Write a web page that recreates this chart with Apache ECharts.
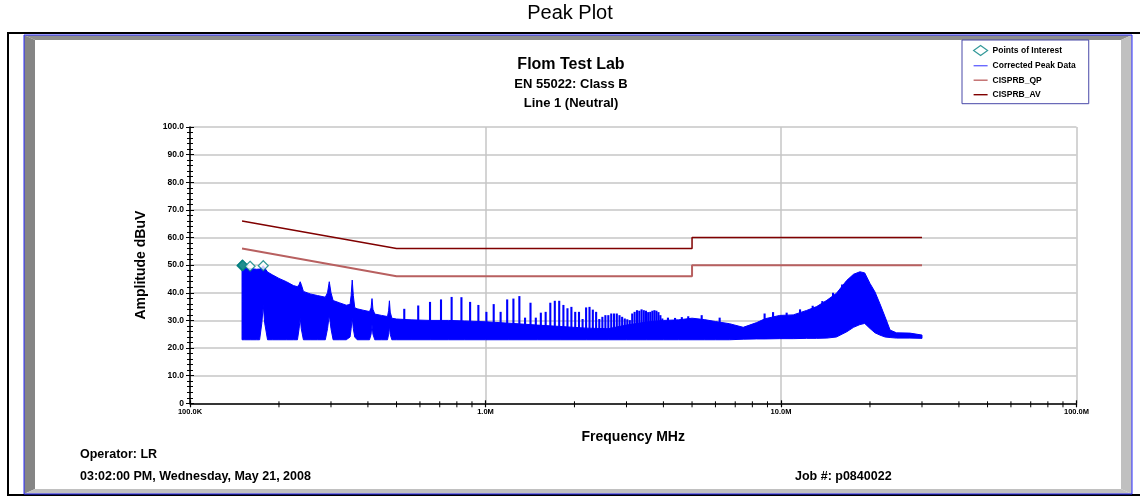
<!DOCTYPE html>
<html>
<head>
<meta charset="utf-8">
<title>Peak Plot</title>
<script src="https://cdn.jsdelivr.net/npm/echarts@6.0.0/dist/echarts.min.js"></script>
<style>
  html, body { margin: 0; padding: 0; background: #fff; }
  #chart { width: 1140px; height: 496px; }
</style>
</head>
<body>
<div id="chart"></div>
<script>
// frequencies in MHz, levels in dBuV

// corrected peak data: the solid band is read as an upper and a lower envelope
const bandFreq = [0.150, 0.153, 0.160, 0.168, 0.172, 0.175, 0.177, 0.179, 0.183, 0.190,
  0.200, 0.212, 0.224, 0.231, 0.234, 0.236, 0.238, 0.242, 0.255, 0.270,
  0.287, 0.292, 0.296, 0.300, 0.305, 0.320, 0.338, 0.348, 0.351, 0.354,
  0.357, 0.361, 0.368, 0.385, 0.405, 0.410, 0.413, 0.416, 0.422, 0.445,
  0.466, 0.470, 0.473, 0.476, 0.482, 0.500, 0.560, 0.650, 0.750, 0.850,
  1.00, 1.20, 1.50, 1.80, 2.20, 2.60, 3.00, 3.50, 4.00, 4.50,
  5.00, 5.50, 6.00, 6.70, 7.45, 8.27, 8.83, 9.90, 11.0, 12.2,
  13.2, 14.3, 15.4, 16.7, 17.6, 18.5, 19.2, 20.0, 20.8, 21.6,
  22.5, 23.4, 24.6, 27.3, 30.0];
const bandTop = [50.0, 49.0, 48.8, 48.5, 48.6, 49.2, 49.8, 49.0, 47.5, 46.5,
  45.2, 44.0, 42.6, 42.2, 43.0, 44.0, 43.0, 40.5, 39.6, 39.0,
  38.4, 40.0, 44.0, 40.0, 37.2, 36.4, 35.5, 35.8, 39.0, 44.6,
  39.0, 34.6, 34.2, 33.7, 33.2, 34.5, 37.9, 34.0, 32.3, 31.8,
  31.4, 33.5, 37.1, 33.0, 30.8, 30.5, 30.2, 30.0, 30.0, 29.8,
  29.5, 29.0, 28.3, 27.8, 27.2, 27.0, 28.3, 29.4, 30.0, 30.2,
  30.8, 30.3, 29.6, 28.8, 27.5, 29.2, 30.6, 31.8, 32.0, 33.6,
  35.0, 37.3, 39.8, 44.5, 46.7, 47.6, 47.2, 43.4, 40.3, 36.1,
  31.3, 26.5, 25.5, 25.4, 24.7];
const bandLow = [23.0, 23.0, 23.0, 23.0, 23.0, 29.0, 35.5, 29.0, 23.0, 23.0,
  23.0, 23.0, 23.0, 23.0, 27.0, 31.0, 27.0, 23.0, 23.0, 23.0,
  23.0, 27.0, 32.0, 27.0, 23.0, 23.0, 23.0, 24.0, 27.0, 31.0,
  27.0, 24.0, 23.0, 23.0, 23.0, 25.0, 28.5, 25.0, 23.0, 23.0,
  23.0, 25.0, 28.0, 25.0, 23.0, 23.0, 23.0, 23.0, 23.0, 23.0,
  23.0, 23.0, 23.0, 23.0, 23.0, 23.0, 23.0, 23.0, 23.0, 23.0,
  23.0, 23.0, 23.0, 23.0, 23.2, 23.3, 23.3, 23.4, 23.4, 23.5,
  23.5, 23.6, 24.0, 25.9, 27.5, 28.5, 28.9, 27.1, 25.5, 24.7,
  24.0, 23.8, 23.6, 23.6, 23.5];

// harmonic spikes and noise spikes standing above the band
const spikeBase = 26.5;
const spikeFreq = [0.531, 0.592, 0.649, 0.707, 0.768, 0.829, 0.887, 0.946,
  1.007, 1.066, 1.125, 1.184, 1.243, 1.302, 1.361, 1.420, 1.480, 1.539,
  1.598, 1.657, 1.716, 1.776, 1.835, 1.894, 1.953, 2.012, 2.072, 2.131,
  2.190, 2.249, 2.308, 2.368, 2.427, 2.486, 2.545, 2.604, 2.664, 2.723,
  2.782, 2.841, 2.900, 2.960, 3.019, 3.078, 3.137, 3.196, 3.256, 3.315,
  3.374, 3.433, 3.492, 3.552, 3.611, 3.670, 3.729, 3.788, 3.848, 3.907,
  3.966, 4.144, 4.380, 4.617, 4.854, 5.39, 6.20, 8.80, 9.40, 10.45,
  11.6, 12.8, 13.8, 15.0, 16.1];
const spikeTop = [34.2, 35.4, 36.7, 37.6, 38.5, 38.4, 36.7, 35.6,
  33.1, 35.9, 33.1, 37.6, 37.9, 38.8, 31.0, 36.4, 31.0, 32.8,
  33.1, 36.4, 37.1, 37.1, 35.6, 34.4, 34.9, 33.1, 33.1, 30.5,
  34.7, 34.9, 33.9, 33.1, 30.5, 31.3, 31.9, 31.9, 32.5, 32.5,
  32.5, 31.9, 31.3, 30.7, 30.4, 30.1, 32.5, 33.1, 33.7, 33.5,
  34.0, 33.7, 33.5, 33.0, 33.1, 33.5, 33.7, 33.5, 33.0, 31.9,
  30.7, 31.0, 30.9, 31.2, 31.5, 31.9, 31.0, 32.5, 33.0, 32.8,
  34.0, 35.3, 37.0, 40.0, 43.0];

// EN 55022 class B limit lines
const limitFreq = [0.15, 0.5, 5, 5, 30];
const limitUpper = [66, 56, 56, 60, 60];
const limitLower = [56, 46, 46, 50, 50];

// points of interest
const poiFreq = [0.1500, 0.1505, 0.1510, 0.1597, 0.1770];
const poiLevel = [49.8, 50.0, 49.9, 49.6, 49.8];

// axis ticks
const freqTickLabels = ['100.0K', '1.0M', '10.0M', '100.0M'];
const freqMinorTicks = [0.2, 0.3, 0.4, 0.5, 0.6, 0.7, 0.8, 0.9,
  2, 3, 4, 5, 6, 7, 8, 9, 20, 30, 40, 50, 60, 70, 80, 90];
const ampTickLabels = ['0', '10.0', '20.0', '30.0', '40.0', '50.0', '60.0', '70.0', '80.0', '90.0', '100.0'];

const FONT = 'Arial, "Liberation Sans", sans-serif';

function zip(xs, ys) {
  return xs.map((x, i) => [x, ys[i]]);
}

function drawBand(params, api) {
  const pts = [];
  for (let i = 0; i < bandFreq.length; i++) pts.push(api.coord([bandFreq[i], bandTop[i]]));
  for (let i = bandFreq.length - 1; i >= 0; i--) pts.push(api.coord([bandFreq[i], bandLow[i]]));
  return {
    type: 'polygon',
    shape: { points: pts },
    style: { fill: '#0000ff', stroke: '#0000ff', lineWidth: 1 }
  };
}

function drawSpike(params, api) {
  const top = api.coord([api.value(0), api.value(1)]);
  const base = api.coord([api.value(0), spikeBase]);
  return {
    type: 'line',
    shape: { x1: top[0], y1: top[1], x2: base[0], y2: base[1] },
    style: { stroke: '#0000ff', lineWidth: 2.1 }
  };
}

function drawMinorTick(params, api) {
  const p = api.coord([api.value(0), 0]);
  return {
    type: 'line',
    shape: { x1: p[0], y1: p[1] - 2, x2: p[0], y2: p[1] + 4 },
    style: { stroke: '#000', lineWidth: 1 }
  };
}

const chart = echarts.init(document.getElementById('chart'), null, { renderer: 'canvas' });

const lineLegendIcon = 'path://M0,0H20V2H0Z';

const option = {
  animation: false,
  backgroundColor: '#fff',
  textStyle: { fontFamily: FONT },
  grid: { left: 190, top: 127, width: 886.5, height: 276.3 },
  legend: {
    left: 962, top: 40,
    orient: 'vertical',
    backgroundColor: '#fff',
    borderColor: '#4848a8', borderWidth: 1,
    padding: [5, 13, 4, 11],
    itemWidth: 14, itemHeight: 10, itemGap: 4.5,
    textStyle: { fontSize: 8.5, fontWeight: 'bold', color: '#000', fontFamily: FONT, lineHeight: 10 },
    selectedMode: false,
    data: [
      { name: 'Points of Interest', icon: 'diamond', itemStyle: { color: '#fff', borderColor: '#008080', borderWidth: 1.2 } },
      { name: 'Corrected Peak Data', icon: lineLegendIcon, itemStyle: { color: '#6a6aff' } },
      { name: 'CISPRB_QP', icon: lineLegendIcon, itemStyle: { color: '#c06868' } },
      { name: 'CISPRB_AV', icon: lineLegendIcon, itemStyle: { color: '#800000' } }
    ]
  },
  xAxis: [{
    type: 'log', logBase: 10, min: 0.1, max: 100, position: 'bottom',
    name: 'Frequency MHz', nameLocation: 'middle', nameGap: 27,
    nameTextStyle: { fontSize: 14, fontWeight: 'bold', color: '#000', fontFamily: FONT },
    axisLine: { show: true, lineStyle: { color: '#000', width: 1.5 } },
    axisTick: { show: true, length: 4, lineStyle: { color: '#000', width: 1.2 } },
    axisLabel: {
      margin: 5, fontSize: 7.5, fontWeight: 'bold', color: '#000', fontFamily: FONT,
      formatter: v => freqTickLabels[Math.round(Math.log10(v)) + 1]
    },
    splitLine: { show: true, lineStyle: { color: '#c6c6c6', width: 1.5 } }
  }, {
    type: 'log', logBase: 10, min: 0.1, max: 100, position: 'bottom',
    axisLine: { show: false },
    axisTick: { show: true, inside: true, length: 3, lineStyle: { color: '#000', width: 1.2 } },
    axisLabel: { show: false },
    splitLine: { show: false }
  }],
  yAxis: [{
    type: 'value', min: 0, max: 100, interval: 10, position: 'left',
    name: 'Amplitude dBuV', nameLocation: 'middle', nameGap: 42, nameRotate: 90,
    nameTextStyle: { fontSize: 14, fontWeight: 'bold', color: '#000', fontFamily: FONT },
    axisLine: { show: true, lineStyle: { color: '#000', width: 1.5 } },
    axisTick: { show: true, length: 4, lineStyle: { color: '#000', width: 1 } },
    minorTick: { show: true, splitNumber: 5, length: 3, lineStyle: { color: '#000', width: 1 } },
    axisLabel: {
      margin: 6, fontSize: 8.5, fontWeight: 'bold', color: '#000', fontFamily: FONT,
      formatter: v => ampTickLabels[Math.round(v / 10)]
    },
    splitLine: { show: true, lineStyle: { color: '#c6c6c6', width: 1.5 } }
  }, {
    type: 'value', min: 0, max: 100, interval: 10, position: 'left',
    axisLine: { show: false },
    axisTick: { show: true, inside: true, length: 4, lineStyle: { color: '#000', width: 1 } },
    minorTick: { show: true, splitNumber: 5, length: 3, lineStyle: { color: '#000', width: 1 } },
    axisLabel: { show: false },
    splitLine: { show: false }
  }],
  graphic: [
    // outer frame
    { type: 'rect', z: 1, shape: { x: 8, y: 33, width: 1150, height: 462 }, style: { fill: 'none', stroke: '#000', lineWidth: 2 } },
    { type: 'polygon', z: 1, shape: { points: [[24, 35], [1132, 35], [1121, 40], [35, 40]] }, style: { fill: '#8e8e8e' } },
    { type: 'polygon', z: 1, shape: { points: [[24, 35], [35, 40], [35, 489], [24, 494]] }, style: { fill: '#858585' } },
    { type: 'polygon', z: 1, shape: { points: [[1132, 35], [1132, 494], [1121, 489], [1121, 40]] }, style: { fill: '#c0c0c0' } },
    { type: 'polygon', z: 1, shape: { points: [[24, 494], [1132, 494], [1121, 489], [35, 489]] }, style: { fill: '#c0c0c0' } },
    { type: 'rect', z: 1, shape: { x: 24, y: 35, width: 1108, height: 459 }, style: { fill: 'none', stroke: '#2a2aff', lineWidth: 1 } },
    // headings
    { type: 'text', z: 5, x: 570, y: 13, style: { text: 'Peak Plot', font: '20px ' + FONT, fill: '#000', align: 'center', verticalAlign: 'middle' } },
    { type: 'text', z: 5, x: 571, y: 65, style: { text: 'Flom Test Lab', font: 'bold 16px ' + FONT, fill: '#000', align: 'center', verticalAlign: 'middle' } },
    { type: 'text', z: 5, x: 571, y: 84, style: { text: 'EN 55022: Class B', font: 'bold 13px ' + FONT, fill: '#000', align: 'center', verticalAlign: 'middle' } },
    { type: 'text', z: 5, x: 571, y: 103, style: { text: 'Line 1 (Neutral)', font: 'bold 13px ' + FONT, fill: '#000', align: 'center', verticalAlign: 'middle' } },
    // footer
    { type: 'text', z: 5, x: 80, y: 455, style: { text: 'Operator: LR', font: 'bold 12.5px ' + FONT, fill: '#000', align: 'left', verticalAlign: 'middle' } },
    { type: 'text', z: 5, x: 80, y: 477, style: { text: '03:02:00 PM, Wednesday, May 21, 2008', font: 'bold 12.5px ' + FONT, fill: '#000', align: 'left', verticalAlign: 'middle' } },
    { type: 'text', z: 5, x: 795, y: 477, style: { text: 'Job #: p0840022', font: 'bold 12.5px ' + FONT, fill: '#000', align: 'left', verticalAlign: 'middle' } }
  ],
  series: [
    {
      name: 'Corrected Peak Data', type: 'custom', z: 2,
      renderItem: drawBand, data: [[bandFreq[0], bandTop[0]]],
      itemStyle: { color: '#0000ff' }, silent: true
    },
    {
      name: 'Corrected Peak Data', type: 'custom', z: 2,
      renderItem: drawSpike, data: zip(spikeFreq, spikeTop),
      itemStyle: { color: '#0000ff' }, silent: true
    },
    {
      name: 'CISPRB_AV', type: 'line', z: 3, symbol: 'none',
      data: zip(limitFreq, limitUpper),
      itemStyle: { color: '#800000' },
      lineStyle: { color: '#800000', width: 1.5 }
    },
    {
      name: 'CISPRB_QP', type: 'line', z: 3, symbol: 'none',
      data: zip(limitFreq, limitLower),
      itemStyle: { color: '#c06868' },
      lineStyle: { color: '#b86060', width: 2 }
    },
    {
      name: 'Points of Interest', type: 'scatter', z: 4,
      symbol: 'diamond', symbolSize: 10,
      data: zip(poiFreq, poiLevel),
      itemStyle: {
        color: p => (p.dataIndex < 3 ? '#1f8f8f' : '#fff'),
        borderColor: '#008080', borderWidth: 1.2
      }
    },
    {
      type: 'custom', z: 4, silent: true,
      renderItem: drawMinorTick, data: freqMinorTicks.map(f => [f, 0])
    }
  ]
};

chart.setOption(option);
</script>
</body>
</html>
